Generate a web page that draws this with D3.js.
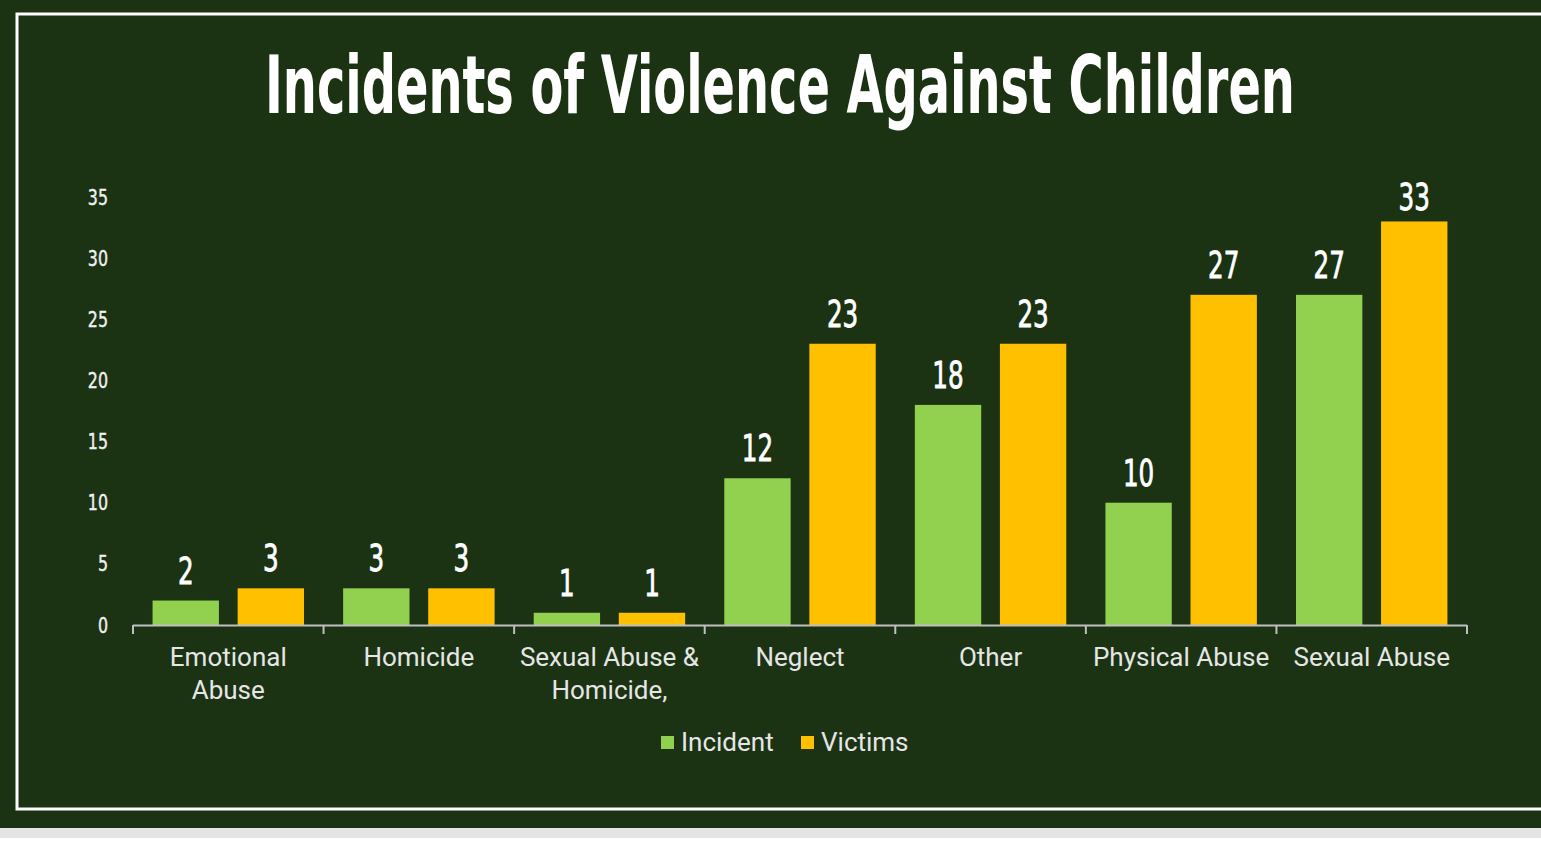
<!DOCTYPE html>
<meta charset="utf-8">
<title>Incidents of Violence Against Children</title>
<style>
  body { margin: 0; background: #fff; }
  svg { display: block; }
  .narrow { font-family: "DejaVu Sans Condensed", "Liberation Sans Narrow", sans-serif; }
  .roboto { font-family: Roboto, "Noto Sans", sans-serif; }
</style>
<body>
<svg width="1541" height="855"></svg>
<script src="https://d3js.org/d3.v7.min.js"></script>
<script>

  // chart data
  var categories = ["Emotional\nAbuse", "Homicide", "Sexual Abuse &\nHomicide,", "Neglect", "Other", "Physical Abuse", "Sexual Abuse"]
  var series = ["Incident", "Victims"]
  var incident = [2, 3, 1, 12, 18, 10, 27]
  var victims = [3, 3, 1, 23, 23, 27, 33]
  var yTicks = [0, 5, 10, 15, 20, 25, 30, 35]
  var colors = ["#92d050", "#ffc000"]

  var svg = d3.select("svg"),
    width = +svg.attr("width"),
    height = +svg.attr("height");

  // page background + frame
  svg.append("rect").attr("width", width).attr("height", 828).attr("fill", "#1b3313");
  svg.append("rect").attr("y", 828).attr("width", width).attr("height", 10).attr("fill", "#e4e4e4");
  svg.append("rect")
    .attr("x", 17).attr("y", 14)
    .attr("width", width).attr("height", 795)
    .attr("fill", "none")
    .attr("stroke", "#fff")
    .attr("stroke-width", 3);

  // squeeze a text horizontally around its anchor point (no narrow font installed)
  function squeeze(sel, sx) {
    sel.each(function () {
      var t = d3.select(this);
      var px = +t.attr("x"), py = +t.attr("y");
      t.attr("x", 0).attr("y", 0)
        .attr("transform", "translate(" + px + "," + py + ") scale(" + sx + ",1)");
    });
  }

  // title
  var title = svg.append("text")
    .attr("class", "narrow")
    .attr("x", 780).attr("y", 113)
    .attr("text-anchor", "middle")
    .attr("fill", "#fff")
    .attr("font-size", 80)
    .attr("font-weight", "bold")
    .text("Incidents of Violence Against Children");
  var tw = title.node().getComputedTextLength();
  squeeze(title, 1030 / tw);

  var x = d3.scaleBand().domain(categories).range([133, 1467]);
  var xSub = d3.scaleBand().domain(series).range([0, x.bandwidth()])
    .paddingInner(0.22).paddingOuter(0.23);
  var y = d3.scaleLinear().domain([0, 35]).range([625, 197]);

  var rows = categories.map(function (c, i) {
    return { cat: c, values: [incident[i], victims[i]] };
  });

  // y axis labels (no line)
  svg.append("g").selectAll("text")
    .data(yTicks)
    .enter().append("text")
    .attr("class", "narrow")
    .attr("x", 108)
    .attr("y", d => y(d) + 7.5)
    .attr("text-anchor", "end")
    .attr("fill", "#f0f0f0")
    .attr("font-size", 21)
    .attr("stroke", "#f0f0f0")
    .attr("stroke-width", 0.4)
    .text(d => d)
    .call(squeeze, 0.84);

  // bars
  var group = svg.append("g").selectAll("g")
    .data(rows)
    .enter().append("g")
    .attr("transform", d => "translate(" + x(d.cat) + ",0)");

  group.selectAll("rect")
    .data(d => d.values.map((v, j) => ({ key: series[j], value: v, j: j })))
    .enter().append("rect")
    .attr("x", d => xSub(d.key))
    .attr("width", xSub.bandwidth())
    .attr("y", d => y(d.value))
    .attr("height", d => y(0) - y(d.value))
    .attr("fill", d => colors[d.j]);

  // data labels
  group.selectAll("text")
    .data(d => d.values.map((v, j) => ({ key: series[j], value: v })))
    .enter().append("text")
    .attr("class", "narrow")
    .attr("x", d => xSub(d.key) + xSub.bandwidth() / 2)
    .attr("y", d => Math.max(y(d.value) - 17, y(35) + 13))
    .attr("text-anchor", "middle")
    .attr("fill", "#fff")
    .attr("stroke", "#fff")
    .attr("stroke-width", 0.8)
    .attr("font-size", 38)
    .text(d => d.value)
    .call(squeeze, 0.72);

  // x axis line and category ticks
  var ax = svg.append("g");
  ax.append("line")
    .attr("x1", x.range()[0]).attr("x2", x.range()[1]).attr("y1", 625.5).attr("y2", 625.5)
    .attr("stroke", "#bfbfbf").attr("stroke-width", 2);
  ax.selectAll(".tk")
    .data(categories.map(d => x(d)).concat([x.range()[1]]))
    .enter().append("line")
    .attr("class", "tk")
    .attr("x1", d => d).attr("x2", d => d)
    .attr("y1", 625).attr("y2", 634)
    .attr("stroke", "#bfbfbf").attr("stroke-width", 2);

  // category labels
  var labels = svg.append("g").selectAll("text")
    .data(categories)
    .enter().append("text")
    .attr("class", "roboto")
    .attr("x", d => x(d) + x.bandwidth() / 2)
    .attr("y", 666)
    .attr("text-anchor", "middle")
    .attr("fill", "#e6e6e6")
    .attr("font-size", 26);
  labels.selectAll("tspan")
    .data(d => d.split("\n"))
    .enter().append("tspan")
    .attr("x", function () { return d3.select(this.parentNode).attr("x"); })
    .attr("dy", (d, i) => i ? 33 : 0)
    .text(d => d);

  // legend
  var legX = [661, 801];
  var leg = svg.append("g").selectAll("g")
    .data(series)
    .enter().append("g")
    .attr("transform", (d, i) => "translate(" + legX[i] + ",736)");
  leg.append("rect").attr("width", 13).attr("height", 13).attr("fill", (d, i) => colors[i]);
  leg.append("text")
    .attr("class", "roboto")
    .attr("x", 20).attr("y", 15)
    .attr("fill", "#e6e6e6")
    .attr("font-size", 26)
    .text(d => d);

</script>
</body>
